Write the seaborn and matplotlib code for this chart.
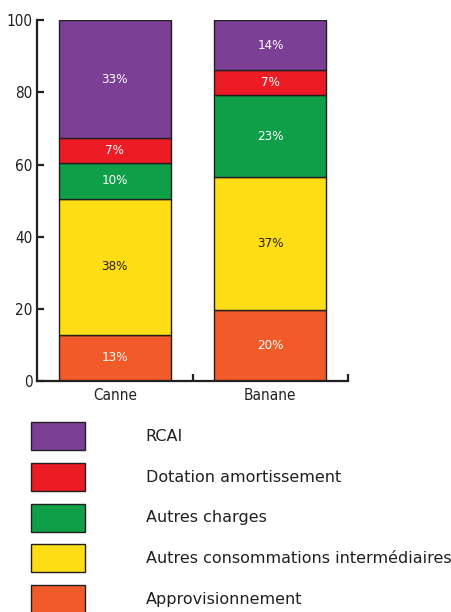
import numpy as np
import pandas as pd
import matplotlib
matplotlib.use('Agg')
import matplotlib.pyplot as plt
from matplotlib.patches import Patch
import seaborn as sns

# données (en %)
cultures = ['Canne', 'Banane']
postes = ['Approvisionnement', 'Autres consommations intermédiaires',
          'Autres charges', 'Dotation amortissement', 'RCAI']
approvisionnement = [13, 20]
autres_conso = [38, 37]
autres_charges = [10, 23]
dotation = [7, 7]
rcai = [33, 14]
couleurs = ['#F15A29', '#FFDD15', '#0F9F48', '#ED1C24', '#7B3F95']
couleurs_texte = ['white', '#231F20', 'white', 'white', 'white']

valeurs = np.array([approvisionnement, autres_conso, autres_charges, dotation, rcai], dtype=float)
# les pourcentages arrondis font 101 : on ramène chaque barre à 100
hauteurs = valeurs / valeurs.sum(axis=0) * 100

sns.set_theme(style='white')
plt.rcParams['font.family'] = ['DejaVu Sans']

fig = plt.figure(figsize=(4.51, 6.12), dpi=100)
ax = fig.add_axes([0.082, 0.3775, 0.69, 0.5895])

bas = np.zeros(len(cultures))
for i, poste in enumerate(postes):
    df = pd.DataFrame({'culture': cultures, 'valeur': hauteurs[i]})
    sns.barplot(data=df, x='culture', y='valeur', color=couleurs[i], width=0.72,
                bottom=bas, edgecolor='#231F20', linewidth=1.0, saturation=1, ax=ax)
    ax.bar_label(ax.containers[-1], labels=[f'{int(v)}%' for v in valeurs[i]],
                 label_type='center', color=couleurs_texte[i], fontsize=9.5,
                 fontstretch='condensed')
    bas = bas + hauteurs[i]

ax.set_xlim(-0.5, 1.5)
ax.set_ylim(0, 100)
ax.set_yticks([0, 20, 40, 60, 80, 100])
ax.set_xlabel('')
ax.set_ylabel('')
for s in ['top', 'right']:
    ax.spines[s].set_visible(False)
for s in ['left', 'bottom']:
    ax.spines[s].set_linewidth(1.6)
    ax.spines[s].set_color('#231F20')
ax.set_xticks([0.5, 1.5], minor=True)
ax.tick_params(axis='y', direction='in', length=5, width=1.6, color='#231F20', left=True, pad=3)
ax.tick_params(axis='x', which='major', length=0, pad=5)
ax.tick_params(axis='x', which='minor', direction='in', length=5, width=1.6, color='#231F20', bottom=True)
for lab in ax.get_yticklabels() + ax.get_xticklabels():
    lab.set_fontstretch('condensed')
    lab.set_fontsize(11)
    lab.set_color('#231F20')

handles = [Patch(facecolor=couleurs[i], edgecolor='#231F20', linewidth=1.0, label=postes[i])
           for i in range(len(postes))][::-1]
fig.legend(handles=handles, loc='upper left', bbox_to_anchor=(0.0687, 0.311),
           frameon=False, fontsize=11.5, handlelength=3.38, handleheight=2.32,
           handletextpad=3.8, labelspacing=0.81, borderaxespad=0, borderpad=0,
           labelcolor='#231F20')

fig.savefig('out.png', dpi=100)
